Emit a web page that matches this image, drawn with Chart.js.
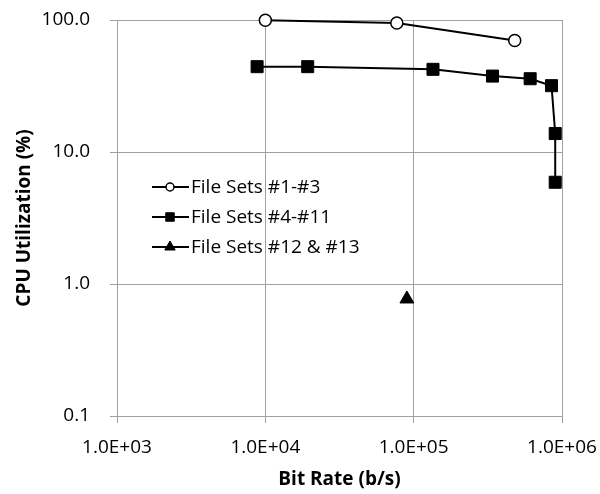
<!DOCTYPE html>
<html>
<head>
<meta charset="utf-8">
<script src="https://cdn.jsdelivr.net/npm/chart.js@4.4.1/dist/chart.umd.min.js"></script>
<style>
  html, body { margin: 0; padding: 0; background: #fff; }
  #wrap { width: 600px; height: 494px; }
</style>
</head>
<body>
<div id="wrap"><canvas id="cpuChart"></canvas></div>
<script>
// File Sets #1-#3
const set1Rate = [10000, 77000, 480000];
const set1Cpu = [99.5, 95, 70];
// File Sets #4-#11
const set2Rate = [8800, 19300, 135000, 340000, 610000, 850000, 900000, 900000];
const set2Cpu = [44.3, 44.3, 42.3, 37.6, 35.9, 31.8, 13.8, 5.9];
// File Sets #12 & #13
const set3Rate = [90000];
const set3Cpu = [0.77];

const seriesNames = ['File Sets #1-#3', 'File Sets #4-#11', 'File Sets #12 & #13'];
const xTicks = [1e3, 1e4, 1e5, 1e6];
const yTicks = [0.1, 1, 10, 100];

const FONT = '"Open Sans", "Liberation Sans", sans-serif';
const GRID = '#a0a0a0';

const toPoints = (xs, ys) => xs.map((x, i) => ({x: x, y: ys[i]}));

const fmtExp = (v) => {
    const exp = Math.round(Math.log10(v));
    const mant = (v / Math.pow(10, exp)).toFixed(1);
    const sign = exp < 0 ? '-' : '+';
    return `${mant}E${sign}${String(Math.abs(exp)).padStart(2, '0')}`;
};

// legend drawn inside the plot area, like the original (markers are smaller there)
const legendRadius = {circle: 4, rect: 6, triangle: 6};

const insideLegend = {
    id: 'insideLegend',
    afterDraw(chart) {
        const ctx = chart.ctx;
        const x0 = 152, x1 = 189, xm = 170, xt = 191;
        const rows = [187, 217, 247];
        chart.data.datasets.forEach((ds, i) => {
            const y = rows[i];
            ctx.save();
            ctx.strokeStyle = '#000';
            ctx.lineWidth = 2;
            ctx.beginPath();
            ctx.moveTo(x0, y);
            ctx.lineTo(x1, y);
            ctx.stroke();
            ctx.fillStyle = ds.pointBackgroundColor;
            ctx.lineWidth = ds.pointBorderWidth;
            Chart.helpers.drawPoint(ctx, {
                pointStyle: ds.pointStyle,
                radius: legendRadius[ds.pointStyle],
                rotation: 0,
                borderWidth: ds.pointBorderWidth,
            }, xm, y);
            ctx.fillStyle = '#000';
            ctx.font = `19px ${FONT}`;
            ctx.textBaseline = 'middle';
            ctx.textAlign = 'left';
            ctx.fillText(ds.label, xt, y + 1);
            ctx.restore();
        });
    },
};

new Chart(document.getElementById('cpuChart'), {
    type: 'scatter',
    data: {
        datasets: [
            {
                label: seriesNames[0],
                data: toPoints(set1Rate, set1Cpu),
                showLine: true,
                borderColor: '#000',
                borderWidth: 2,
                pointStyle: 'circle',
                pointRadius: 6,
                pointBorderWidth: 1.5,
                pointBackgroundColor: '#fff',
                pointBorderColor: '#000',
                clip: false,
            },
            {
                label: seriesNames[1],
                data: toPoints(set2Rate, set2Cpu),
                showLine: true,
                borderColor: '#000',
                borderWidth: 2,
                pointStyle: 'rect',
                pointRadius: 8.5,
                pointBorderWidth: 1,
                pointBackgroundColor: '#000',
                pointBorderColor: '#000',
                clip: false,
            },
            {
                label: seriesNames[2],
                data: toPoints(set3Rate, set3Cpu),
                showLine: true,
                borderColor: '#000',
                borderWidth: 2,
                pointStyle: 'triangle',
                pointRadius: 8,
                pointBorderWidth: 1,
                pointBackgroundColor: '#000',
                pointBorderColor: '#000',
                clip: false,
            },
        ],
    },
    options: {
        responsive: true,
        maintainAspectRatio: false,
        animation: false,
        layout: {
            padding: {left: 0, right: 38, top: 20, bottom: 0},
        },
        plugins: {
            legend: {display: false},
            tooltip: {enabled: false},
        },
        scales: {
            x: {
                type: 'logarithmic',
                min: 1e3,
                max: 1e6,
                afterBuildTicks: (scale) => {
                    scale.ticks = xTicks.map((v) => ({value: v}));
                },
                afterFit: (scale) => {
                    scale.height = 78;
                    scale.paddingLeft = 0;
                    scale.paddingRight = 0;
                },
                grid: {color: GRID, lineWidth: 1, tickLength: 7},
                border: {color: GRID, width: 1},
                ticks: {
                    color: '#000',
                    font: {family: FONT, size: 19},
                    padding: 13,
                    maxRotation: 0,
                    autoSkip: false,
                    callback: (v) => fmtExp(v),
                },
                title: {
                    display: true,
                    text: 'Bit Rate (b/s)',
                    color: '#000',
                    font: {family: FONT, size: 19, weight: 'bold'},
                    padding: {top: 0, bottom: 3},
                },
            },
            y: {
                type: 'logarithmic',
                min: 0.1,
                max: 100,
                afterBuildTicks: (scale) => {
                    scale.ticks = yTicks.map((v) => ({value: v}));
                },
                afterFit: (scale) => {
                    scale.width = 117;
                    scale.paddingTop = 0;
                    scale.paddingBottom = 0;
                },
                grid: {color: GRID, lineWidth: 1, tickLength: 7},
                border: {color: GRID, width: 1},
                ticks: {
                    color: '#000',
                    font: {family: FONT, size: 19},
                    padding: 20,
                    autoSkip: false,
                    callback: (v) => Number(v).toFixed(1),
                },
                title: {
                    display: true,
                    text: 'CPU Utilization (%)',
                    color: '#000',
                    font: {family: FONT, size: 19, weight: 'bold'},
                    padding: {top: 13, bottom: 0},
                },
            },
        },
    },
    plugins: [insideLegend],
});
</script>
</body>
</html>
